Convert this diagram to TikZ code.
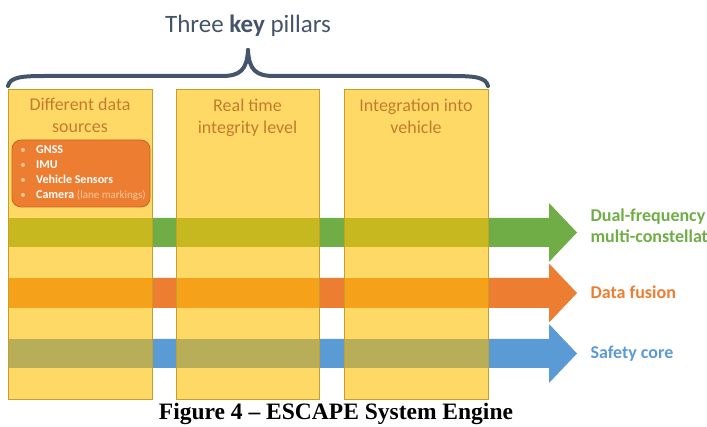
\documentclass[tikz,border=0pt]{standalone}
\usepackage{fontspec}
\setmainfont{Carlito}
\newfontfamily\capfont{Liberation Serif}
\definecolor{pillarfill}{RGB}{255,217,102}
\definecolor{pillarline}{RGB}{196,160,40}
\definecolor{pillartext}{RGB}{196,124,44}
\definecolor{slate}{RGB}{68,84,106}
\definecolor{agreen}{RGB}{112,173,71}
\definecolor{aorange}{RGB}{237,125,49}
\definecolor{ablue}{RGB}{91,155,213}
\definecolor{ogreen}{RGB}{200,184,32}
\definecolor{oorange}{RGB}{245,161,26}
\definecolor{oblue}{RGB}{184,173,88}
\definecolor{boxline}{RGB}{200,100,40}
\definecolor{peach}{RGB}{250,200,160}
\tikzset{
  pillarbox/.style={fill=pillarfill},
  pillarframe/.style={draw=pillarline, line width=0.9pt},
  pillarlabel/.style={text=pillartext, font=\fontsize{18}{22}\selectfont, align=center, anchor=base},
  rightlabel/.style={font=\fontsize{18}{21}\selectfont\bfseries, anchor=base west, align=left},
  bullettext/.style={text=white, font=\fontsize{12}{15}\selectfont\bfseries, anchor=base west, inner sep=0pt},
}
\newcommand\bandarrow[4]{% y1, y2, ytip, color
  \fill[#4] (8,#1) -- (549,#1) -- (549,{#3-29.5}) -- (577,#3) -- (549,{#3+29.5}) -- (549,#2) -- (8,#2) -- cycle;}
\begin{document}
\begin{tikzpicture}[x=1pt,y=-1pt]
\useasboundingbox (0,0) rectangle (707,427);
\begin{scope}
\clip (0,0) rectangle (707,427);
% title and brace
\node[text=slate, font=\fontsize{25}{30}\selectfont, anchor=base] (title) at (248,33) {Three \textbf{key} pillars};
\draw[slate, line width=4pt, line cap=round] (8,86) .. controls (10,77) and (22,76) .. (45,76) -- (222,76) .. controls (240,76) and (247,70) .. (248,50);
\draw[slate, line width=4pt, line cap=round] (488,86) .. controls (486,77) and (474,76) .. (451,76) -- (274,76) .. controls (256,76) and (249,70) .. (248,50);
% arrows
\bandarrow{218}{247}{232.5}{agreen}
\bandarrow{278}{308}{293}{aorange}
\bandarrow{339}{368}{353.5}{ablue}
% pillars
\foreach \xa/\xb in {8/152, 176/319, 344/488} {
  \fill[pillarbox] (\xa,89) rectangle (\xb,399);
  \fill[ogreen] (\xa,218) rectangle (\xb,247);
  \fill[oorange] (\xa,278) rectangle (\xb,308);
  \fill[oblue] (\xa,339) rectangle (\xb,368);
  \draw[pillarframe] (\xa,89) rectangle (\xb,399);
}
\node[pillarlabel] (p1) at (80,133) {Different data\\sources};
\node[pillarlabel] (p2) at (247.5,134) {Real time\\integrity level};
\node[pillarlabel] (p3) at (416,134) {Integration into\\vehicle};
% sources box
\draw[fill=aorange, draw=boxline, line width=0.8pt, rounded corners=9pt] (12,140) rectangle (150,207);
\foreach \yy in {154,169,184,199} { \node[text=peach, font=\fontsize{11}{12}\selectfont, anchor=base] at (23,\yy) {•}; }
\node[bullettext] (s1) at (36,154) {GNSS};
\node[bullettext] (s2) at (36,169) {IMU};
\node[bullettext] (s3) at (36,184) {Vehicle Sensors};
\node[bullettext] (s4) at (36,199) {Camera \textcolor{peach}{\mdseries\fontsize{11}{13}\selectfont (lane markings)}};
% right labels
\node[rightlabel, text=agreen] (l1) at (587,222) {Dual-frequency};
\node[rightlabel, text=agreen] (l1b) at (587,243) {multi-constellation};
\node[rightlabel, text=aorange] (l2) at (587,299) {Data fusion};
\node[rightlabel, text=ablue] (l3) at (587,359) {Safety core};
% caption
\node[font=\capfont\fontsize{23.5}{28}\selectfont\bfseries, anchor=base] (cap) at (336,420) {Figure 4 – ESCAPE System Engine};
\end{scope}
\end{tikzpicture}
\end{document}
